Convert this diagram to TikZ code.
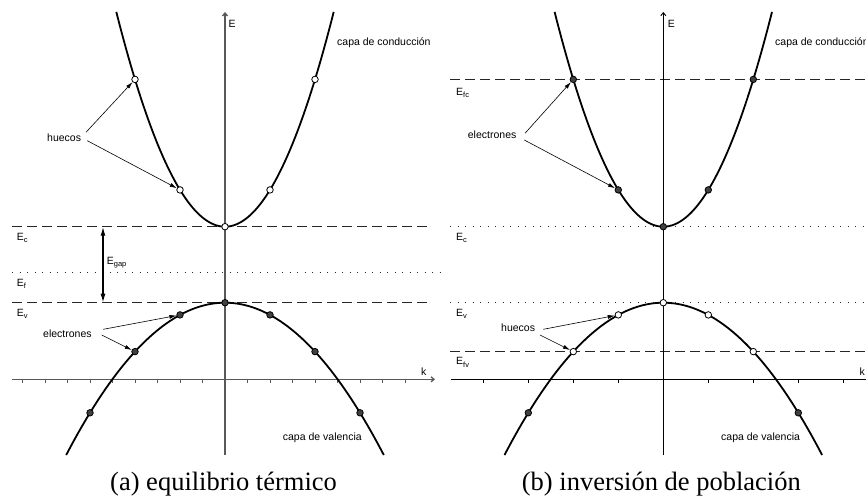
\documentclass[tikz,border=0pt]{standalone}
\usepackage{fontspec}
\setmainfont{Liberation Serif}
\setsansfont{Liberation Sans}
\usetikzlibrary{arrows.meta}
\newcommand{\lsub}[1]{\raisebox{-2.8pt}{\fontsize{7.5}{8}\selectfont #1}}
\begin{document}
\begin{tikzpicture}[x=1pt,y=-1pt,
  lbl/.style={font=\sffamily\fontsize{10.5}{12}\selectfont, inner sep=0pt, anchor=base west},
  captext/.style={font=\fontsize{26.5}{30}\selectfont, inner sep=0pt, anchor=base west},
  band/.style={line width=1.8pt, line join=round},
  axisL/.style={line width=1.3pt, black!65, -{Straight Barb[length=3pt,width=5pt]}},
  axisR/.style={line width=0.9pt, black, -{Straight Barb[length=3pt,width=5pt]}},
  tickL/.style={line width=0.9pt, black!65},
  tickR/.style={line width=0.8pt, black},
  dashline/.style={line width=1.45pt, black!85, dash pattern=on 10pt off 5pt},
  dotline/.style={line width=1.3pt, black!85, dash pattern=on 1.3pt off 6.2pt},
  hole/.style={circle, draw=black, fill=white, line width=0.8pt, minimum size=6.5pt, inner sep=0pt},
  elec/.style={circle, draw=black, fill=black!75, line width=0.8pt, minimum size=6.5pt, inner sep=0pt},
  larrow/.style={line width=0.6pt, -{Latex[length=7pt,width=4pt]}},
  gaparrow/.style={line width=1.4pt, {Latex[length=9pt,width=5pt]}-{Latex[length=9pt,width=5pt]}}
]
\useasboundingbox (0,0) rectangle (866,498);
\clip (0,0) rectangle (866,498);

% ================= panel (a) =================
% reference lines
\draw[dashline] (12,226.7) -- (428,226.7);
\draw[dotline] (12,272.3) -- (440,272.3);
\draw[dashline] (12,302.7) -- (428,302.7);
% axes
\draw[axisL] (12,379.3) -- (435,379.3);
\foreach \i in {1,...,9,11,12,...,18} \draw[tickL] (22.5*\i,379.3) -- (22.5*\i,383);
\draw[axisL] (225,455) -- (225,12);
% bands
\draw[band] plot[domain=-108.7:108.7, samples=90] ({225+\x},{226.7-(0.13483*\x)*(0.13483*\x)});
\draw[band] plot[domain=-158.8:158.8, samples=90] ({225+\x},{302.7+(0.07772*\x)*(0.07772*\x)});
% gap arrow
\coordinate (gT) at (103,226.7);
\coordinate (gB) at (103,302.7);
\draw[gaparrow] (gT) -- (gB);
% points
\node[hole] (cL0) at (225,226.7) {};
\node[hole] (cL1) at (180,189.9) {};
\node[hole] (cL2) at (270,189.9) {};
\node[hole] (cL3) at (135,79.4) {};
\node[hole] (cL4) at (315,79.4) {};
\node[elec] (vL0) at (225,302.7) {};
\node[elec] (vL1) at (180,314.9) {};
\node[elec] (vL2) at (270,314.9) {};
\node[elec] (vL3) at (135,351.6) {};
\node[elec] (vL4) at (315,351.6) {};
\node[elec] (vL5) at (90,412.8) {};
\node[elec] (vL6) at (360,412.8) {};
% labels
\node[lbl] (EaxA) at (228.3,27.3) {E};
\node[lbl] (kA) at (421,375) {k};
\node[lbl] (condA) at (337,45) {capa de conducción};
\node[lbl] (valA) at (282.7,440.7) {capa de valencia};
\node[lbl] (EcA) at (16.7,240) {E\lsub{c}};
\node[lbl] (EfA) at (16.7,286) {E\lsub{f}};
\node[lbl] (EvA) at (16.7,316) {E\lsub{v}};
\node[lbl] (EgA) at (106.7,264) {E\lsub{gap}};
\node[lbl] (huA) at (47,141) {huecos};
\node[lbl] (elA) at (43,337.3) {electrones};
\coordinate (hA1) at (86,132.3);
\coordinate (hA2) at (87.3,140.7);
\coordinate (eA1) at (103.3,329.3);
\coordinate (eA2) at (101.7,335);
\draw[larrow] (hA1) -- (cL3);
\draw[larrow] (hA2) -- (cL1);
\draw[larrow] (eA1) -- (vL1);
\draw[larrow] (eA2) -- (vL3);
\node[captext] (capA) at (110,490) {(a) equilibrio térmico};

% ================= panel (b) =================
\draw[dashline] (450,79.4) -- (870,79.4);
\draw[dotline] (450,226.7) -- (870,226.7);
\draw[dotline] (450,302.7) -- (870,302.7);
\draw[dashline] (450,351.6) -- (870,351.6);
% axes
\draw[axisR] (450.7,379.3) -- (875,379.3);
\foreach \i in {0,1,2,3,5,6,7,8} \draw[tickR] (483.3+45*\i,379.3) -- (483.3+45*\i,383);
\draw[axisR] (663.3,455) -- (663.3,12);
% bands
\draw[band] plot[domain=-108.7:108.7, samples=90] ({663.3+\x},{226.7-(0.13483*\x)*(0.13483*\x)});
\draw[band] plot[domain=-158.8:158.8, samples=90] ({663.3+\x},{302.7+(0.07772*\x)*(0.07772*\x)});
% points
\node[elec] (cB0) at (663.3,226.7) {};
\node[elec] (cB1) at (618.3,189.9) {};
\node[elec] (cB2) at (708.3,189.9) {};
\node[elec] (cB3) at (573.3,79.4) {};
\node[elec] (cB4) at (753.3,79.4) {};
\node[hole] (vB0) at (663.3,302.7) {};
\node[hole] (vB1) at (618.3,314.9) {};
\node[hole] (vB2) at (708.3,314.9) {};
\node[hole] (vB3) at (573.3,351.6) {};
\node[hole] (vB4) at (753.3,351.6) {};
\node[elec] (vB5) at (528.3,412.8) {};
\node[elec] (vB6) at (798.3,412.8) {};
% labels
\node[lbl] (EaxB) at (667.7,27.3) {E};
\node[lbl] (kB) at (859.3,375) {k};
\node[lbl] (condB) at (775,45) {capa de conducción};
\node[lbl] (valB) at (721,440.7) {capa de valencia};
\node[lbl] (EfcB) at (456,95) {E\lsub{fc}};
\node[lbl] (EcB) at (456,240) {E\lsub{c}};
\node[lbl] (EvB) at (456,316) {E\lsub{v}};
\node[lbl] (EfvB) at (456,364.3) {E\lsub{fv}};
\node[lbl] (elB) at (467.7,138.4) {electrones};
\node[lbl] (huB) at (501,331) {huecos};
\coordinate (eB1) at (525,133.3);
\coordinate (eB2) at (524.3,140);
\coordinate (hB1) at (543.3,329.3);
\coordinate (hB2) at (540,335);
\draw[larrow] (eB1) -- (cB3);
\draw[larrow] (eB2) -- (cB1);
\draw[larrow] (hB1) -- (vB1);
\draw[larrow] (hB2) -- (vB3);
\node[captext] (capB) at (521.7,490) {(b) inversión de población};
\end{tikzpicture}
\end{document}
